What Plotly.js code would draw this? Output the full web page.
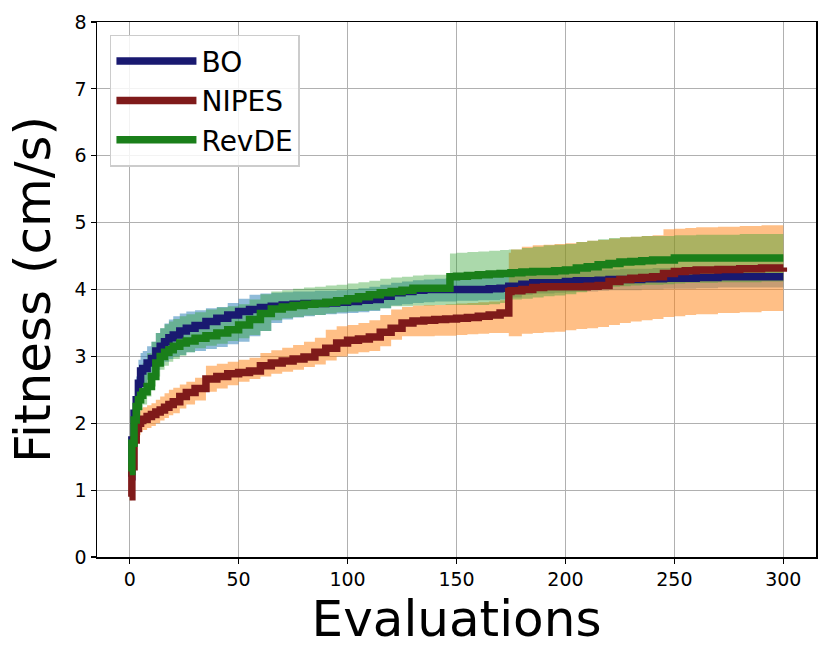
<!DOCTYPE html>
<html>
<head>
<meta charset="utf-8">
<script src="https://cdn.plot.ly/plotly-3.0.1.min.js"></script>
<style>html,body{margin:0;padding:0;background:#fff;}#chart{width:831px;height:662px;}</style>
</head>
<body>
<div id="chart"></div>
<script>
const evaluations = [0,1,2,3,4,5,6,8,10,12,14,16,18,20,23,26,30,35,40,45,50,55,60,65,70,75,80,85,90,95,100,105,110,115,120,125,130,135,140,145,147,150,155,160,165,170,174,175,180,185,190,195,200,205,210,215,220,225,230,235,240,245,250,255,260,270,280,290,300];

const seriesNames = ["BO", "NIPES", "RevDE"];

const boMean = [1.20,1.75,2.15,2.35,2.60,2.78,2.82,2.90,2.97,3.08,3.15,3.22,3.28,3.32,3.38,3.42,3.46,3.52,3.57,3.62,3.67,3.70,3.73,3.75,3.77,3.78,3.79,3.79,3.80,3.81,3.82,3.84,3.85,3.90,3.95,3.97,3.99,4.00,4.00,4.00,4.00,4.00,4.00,4.00,4.01,4.02,4.05,4.05,4.08,4.10,4.10,4.10,4.12,4.13,4.13,4.14,4.15,4.15,4.15,4.16,4.16,4.17,4.17,4.17,4.18,4.19,4.19,4.19,4.19];
const boUpper = [1.30,1.95,2.40,2.70,2.95,3.05,3.08,3.15,3.22,3.35,3.42,3.49,3.55,3.60,3.64,3.67,3.69,3.72,3.74,3.80,3.86,3.92,3.94,3.95,3.96,3.97,3.97,3.98,3.98,3.99,4.00,4.02,4.04,4.07,4.10,4.12,4.14,4.15,4.16,4.17,4.17,4.17,4.18,4.18,4.19,4.20,4.22,4.22,4.24,4.26,4.26,4.27,4.28,4.29,4.29,4.30,4.30,4.31,4.31,4.31,4.32,4.32,4.32,4.32,4.33,4.33,4.33,4.33,4.33];
const boLower = [1.10,1.55,1.90,2.05,2.30,2.50,2.56,2.65,2.72,2.80,2.86,2.92,2.96,3.00,3.02,3.06,3.08,3.11,3.14,3.18,3.22,3.30,3.38,3.50,3.55,3.58,3.60,3.62,3.63,3.64,3.65,3.66,3.68,3.72,3.76,3.78,3.80,3.81,3.82,3.82,3.82,3.83,3.83,3.84,3.84,3.85,3.88,3.88,3.92,3.94,3.94,3.95,3.96,3.97,3.97,3.98,3.99,3.99,3.99,4.00,4.00,4.01,4.01,4.01,4.02,4.03,4.03,4.03,4.03];

const nipesMean = [0.90,1.35,1.75,1.92,2.00,2.04,2.06,2.10,2.13,2.17,2.20,2.24,2.28,2.32,2.40,2.46,2.52,2.66,2.70,2.74,2.76,2.78,2.86,2.90,2.93,2.96,2.99,3.06,3.12,3.20,3.24,3.26,3.29,3.36,3.42,3.50,3.53,3.54,3.55,3.56,3.56,3.57,3.58,3.60,3.62,3.65,3.97,3.98,4.00,4.03,4.04,4.04,4.04,4.04,4.05,4.06,4.12,4.15,4.17,4.18,4.19,4.24,4.27,4.28,4.29,4.30,4.31,4.32,4.33];
const nipesUpper = [0.95,1.55,1.95,2.10,2.18,2.22,2.24,2.27,2.30,2.35,2.40,2.45,2.50,2.53,2.58,2.62,2.68,2.86,2.89,2.92,2.95,2.98,3.05,3.09,3.13,3.17,3.22,3.28,3.40,3.45,3.47,3.50,3.54,3.62,3.70,3.74,3.76,3.77,3.77,3.78,3.78,3.79,3.80,3.81,3.82,3.84,4.55,4.60,4.64,4.66,4.67,4.68,4.69,4.71,4.73,4.74,4.76,4.78,4.79,4.80,4.81,4.90,4.91,4.92,4.93,4.94,4.95,4.96,4.97];
const nipesLower = [0.85,1.15,1.55,1.72,1.82,1.87,1.90,1.93,1.96,2.00,2.04,2.08,2.12,2.15,2.22,2.28,2.34,2.47,2.52,2.57,2.62,2.66,2.70,2.74,2.77,2.80,2.84,2.88,2.94,3.00,3.04,3.06,3.08,3.15,3.25,3.30,3.30,3.30,3.31,3.31,3.31,3.32,3.33,3.34,3.35,3.35,3.30,3.30,3.34,3.35,3.36,3.37,3.39,3.41,3.42,3.44,3.47,3.50,3.52,3.54,3.56,3.59,3.60,3.62,3.63,3.65,3.66,3.68,3.69];

const revdeMean = [1.28,1.70,2.05,2.25,2.35,2.42,2.47,2.55,2.70,2.90,3.00,3.06,3.10,3.15,3.20,3.23,3.27,3.31,3.35,3.40,3.47,3.55,3.64,3.71,3.74,3.76,3.78,3.79,3.81,3.83,3.86,3.89,3.92,3.95,3.97,3.99,4.02,4.02,4.02,4.02,4.19,4.20,4.21,4.22,4.23,4.24,4.24,4.25,4.26,4.27,4.27,4.28,4.29,4.32,4.34,4.37,4.39,4.41,4.42,4.43,4.44,4.44,4.47,4.47,4.47,4.47,4.47,4.47,4.47];
const revdeUpper = [1.35,1.85,2.30,2.55,2.70,2.80,2.90,3.05,3.22,3.35,3.42,3.48,3.52,3.56,3.60,3.63,3.66,3.70,3.73,3.75,3.78,3.85,3.93,3.97,3.99,4.01,4.03,4.04,4.06,4.07,4.09,4.11,4.13,4.16,4.18,4.19,4.21,4.22,4.22,4.22,4.54,4.55,4.56,4.57,4.58,4.59,4.60,4.60,4.62,4.64,4.66,4.67,4.68,4.71,4.73,4.75,4.77,4.78,4.79,4.80,4.80,4.80,4.81,4.81,4.82,4.82,4.83,4.83,4.83];
const revdeLower = [1.20,1.50,1.85,2.00,2.10,2.20,2.28,2.40,2.55,2.70,2.80,2.86,2.92,2.96,3.01,3.06,3.12,3.16,3.19,3.23,3.27,3.32,3.38,3.54,3.57,3.59,3.61,3.62,3.64,3.66,3.67,3.68,3.69,3.72,3.75,3.75,3.76,3.76,3.77,3.77,3.77,3.77,3.77,3.77,3.78,3.80,3.82,3.85,3.86,3.88,3.90,3.91,3.93,3.96,4.00,4.02,4.04,4.05,4.06,4.07,4.07,4.08,4.09,4.10,4.10,4.11,4.11,4.12,4.12];

const xTicks = [0,50,100,150,200,250,300];
const yTicks = [0,1,2,3,4,5,6,7,8];

const styles = [
  {line: "#191970", band: "rgba(31,119,180,0.5)"},
  {line: "#7f1a1a", band: "rgba(255,127,14,0.5)"},
  {line: "#1a7f1a", band: "rgba(44,160,44,0.4)"}
];
const means = [boMean, nipesMean, revdeMean];
const uppers = [boUpper, nipesUpper, revdeUpper];
const lowers = [boLower, nipesLower, revdeLower];

const traces = [];
for (let i = 0; i < 3; i++) {
  traces.push({x: evaluations, y: lowers[i], type: "scatter", mode: "lines", legendgroup: "g" + i,
    line: {width: 0, shape: "hv", color: styles[i].band}, showlegend: false, hoverinfo: "skip"});
  traces.push({x: evaluations, y: uppers[i], type: "scatter", mode: "lines", fill: "tonexty", legendgroup: "g" + i,
    fillcolor: styles[i].band, line: {width: 0, shape: "hv", color: styles[i].band},
    showlegend: false, hoverinfo: "skip"});
}
for (let i = 0; i < 3; i++) {
  traces.push({x: evaluations, y: means[i], type: "scatter", mode: "lines", name: seriesNames[i],
    legendgroup: "g" + i, legendrank: i + 1,
    line: {width: 7.5, shape: "hv", color: styles[i].line}});
}

const layout = {
  width: 831, height: 662,
  margin: {l: 97, r: 15, t: 22, b: 105},
  paper_bgcolor: "#fff", plot_bgcolor: "#fff",
  font: {family: "DejaVu Sans", color: "#000"},
  showlegend: true,
  legend: {x: 0.018, y: 0.976, xanchor: "left", yanchor: "top", traceorder: "normal",
    bgcolor: "rgba(255,255,255,0.85)", bordercolor: "#cccccc", borderwidth: 1.5,
    font: {size: 28, family: "DejaVu Sans"}, itemwidth: 80, tracegroupgap: 3},
  xaxis: {range: [-15, 315], tickvals: xTicks, ticktext: xTicks.map(String),
    showgrid: true, gridcolor: "#b0b0b0", gridwidth: 1.2, zeroline: false,
    showline: true, linecolor: "#000", linewidth: 1.5, mirror: true,
    ticks: "outside", ticklen: 5, tickwidth: 1.2, tickcolor: "#000",
    tickfont: {size: 19, family: "DejaVu Sans"},
    title: {text: "Evaluations", font: {size: 50, family: "DejaVu Sans"}, standoff: 6}},
  yaxis: {range: [0, 8], tickvals: yTicks, ticktext: yTicks.map(String),
    showgrid: true, gridcolor: "#b0b0b0", gridwidth: 1.2, zeroline: false,
    showline: true, linecolor: "#000", linewidth: 1.5, mirror: true,
    ticks: "outside", ticklen: 5, tickwidth: 1.2, tickcolor: "#000",
    tickfont: {size: 19, family: "DejaVu Sans"},
    title: {text: "Fitness (cm/s)", font: {size: 50, family: "DejaVu Sans"}, standoff: 8}}
};

Plotly.newPlot("chart", traces, layout, {displayModeBar: false, staticPlot: true});
</script>
</body>
</html>
